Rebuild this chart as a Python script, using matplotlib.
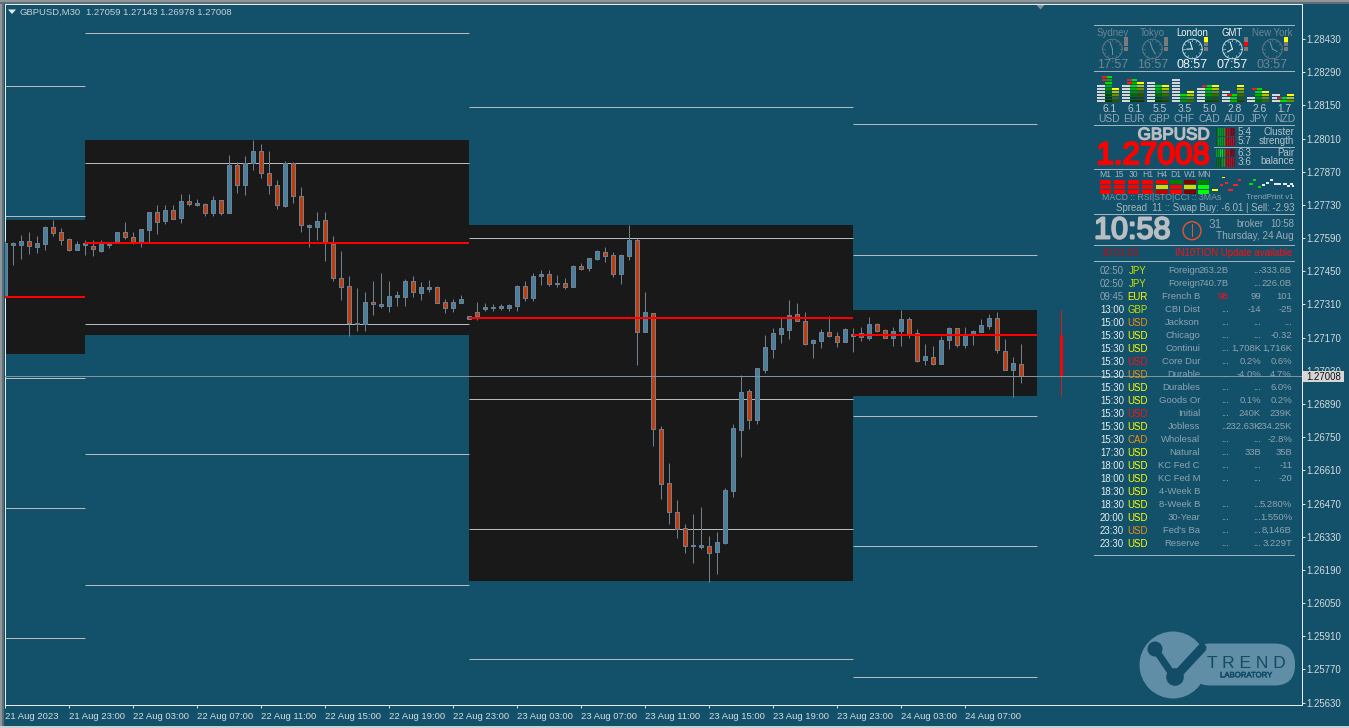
import numpy as np
import matplotlib
matplotlib.use("Agg")
import matplotlib.pyplot as plt
import matplotlib.patheffects as pe
from matplotlib.patches import Rectangle, Circle, FancyBboxPatch

plt.rcParams['font.family'] = ['Liberation Sans', 'DejaVu Sans']

# candles, in points (1e-5)
opens = [127342,127561,127562,127577,127554,127567,127636,127615,127585,127541,
         127562,127556,127537,127561,127570,127615,127594,127570,127626,127699,
         127661,127708,127674,127746,127731,127733,127695,127750,127695,127897,
         127813,127906,127957,127864,127813,127727,127906,127767,127638,127638,
         127665,127564,127421,127387,127226,127229,127319,127305,127305,127343,
         127343,127408,127360,127377,127383,127319,127296,127318,127250,127277,
         127292,127295,127296,127296,127305,127387,127339,127432,127437,127398,
         127399,127385,127471,127465,127502,127530,127518,127440,127516,127581,
         127193,127273,126783,126555,126433,126366,126291,126288,126290,126267,
         126305,126524,126782,126944,126824,127035,127123,127187,127204,127269,
         127239,127149,127157,127193,127176,127153,127178,127188,127170,127226,
         127201,127170,127199,127248,127188,127077,127087,127060,127159,127210,
         127140,127184,127195,127221,127252,127113,127035,127059]
highs = [127578,127574,127602,127615,127598,127640,127667,127632,127592,127577,
         127581,127581,127581,127575,127615,127657,127615,127627,127699,127730,
         127730,127730,127775,127775,127754,127737,127768,127751,127941,127910,
         127935,128004,127987,127957,127834,127914,127910,127805,127650,127699,
         127699,127598,127535,127430,127380,127361,127409,127442,127409,127366,
         127418,127430,127404,127413,127388,127333,127333,127349,127260,127319,
         127315,127311,127311,127311,127391,127408,127442,127454,127454,127433,
         127421,127475,127484,127505,127539,127551,127530,127522,127645,127589,
         127361,127276,126796,126641,126484,126382,126426,126455,126333,126349,
         126534,126804,127012,126952,127041,127180,127210,127252,127329,127315,
         127277,127163,127205,127260,127193,127210,127211,127214,127256,127231,
         127205,127214,127287,127256,127207,127142,127134,127176,127214,127210,
         127214,127201,127248,127269,127277,127163,127087,127143]
lows = [127337,127478,127503,127524,127529,127541,127600,127562,127537,127541,
        127520,127516,127533,127550,127570,127588,127567,127554,127575,127608,
        127651,127670,127655,127727,127726,127685,127685,127689,127695,127781,
        127772,127878,127844,127776,127713,127720,127738,127616,127553,127582,
        127494,127410,127329,127177,127199,127198,127266,127295,127278,127304,
        127304,127342,127329,127363,127318,127274,127278,127318,127250,127245,
        127284,127284,127288,127284,127284,127326,127326,127394,127389,127385,
        127377,127385,127454,127453,127499,127491,127427,127398,127499,127055,
        127193,126714,126489,126384,126325,126261,126219,126278,126139,126173,
        126301,126499,126668,126786,126807,127020,127086,127149,127166,127239,
        127140,127086,127128,127172,127132,127153,127110,127156,127161,127195,
        127170,127136,127136,127170,127069,127056,127056,127060,127121,127132,
        127128,127138,127195,127208,127107,127032,126921,126978]
closes = [127568,127570,127577,127556,127570,127636,127613,127583,127541,127564,
          127570,127546,127564,127565,127615,127593,127570,127627,127699,127657,
          127708,127672,127746,127733,127737,127695,127750,127695,127897,127813,
          127906,127957,127864,127813,127729,127906,127767,127644,127645,127661,
          127570,127421,127385,127231,127232,127319,127311,127312,127345,127350,
          127408,127361,127383,127383,127318,127296,127319,127332,127260,127263,
          127299,127299,127302,127307,127387,127339,127429,127437,127395,127401,
          127385,127471,127461,127505,127535,127516,127440,127518,127581,127193,
          127277,126783,126551,126433,126364,126292,126295,126294,126263,126306,
          126526,126788,126939,126824,127041,127129,127188,127210,127264,127239,
          127145,127159,127193,127176,127153,127205,127186,127174,127226,127199,
          127170,127197,127248,127187,127073,127091,127060,127159,127210,127140,
          127180,127197,127222,127252,127117,127032,127062,127008]

# daily sessions: bar range, high, low, pivot and range levels
session_start = [0, 10, 58, 106]
session_end = [10, 58, 106, 129]
session_high = [127667, 128004, 127645, 127287]
session_low = [127101, 127181, 126143, 126924]
session_pivot = [127343, 127570, 127253, 127183]
level_r2 = [128232, 128454, 128143, 128070]
level_r1 = [127682, 127906, 127589, 127519]
level_s1 = [127000, 127226, 126910, 126838]
level_s2 = [126451, 126679, 126361, 126290]
level_s3 = [125903, 126126, 125814, 125738]

bid = 127008
day_bar = 132
y_ticks = [128430,128290,128150,128010,127870,127730,127590,127450,127310,127170,127030,
           126890,126750,126610,126470,126330,126190,126050,125910,125770,125630]
x_labels = ['21 Aug 2023','21 Aug 23:00','22 Aug 03:00','22 Aug 07:00','22 Aug 11:00','22 Aug 15:00',
            '22 Aug 19:00','22 Aug 23:00','23 Aug 03:00','23 Aug 07:00','23 Aug 11:00','23 Aug 15:00',
            '23 Aug 19:00','23 Aug 23:00','24 Aug 03:00','24 Aug 07:00']

# panel contents
cities = ['Sydney','Tokyo','London','GMT','New York']
city_times = ['17:57','16:57','08:57','07:57','03:57']
city_active = [False, False, True, True, False]
city_lamps = [None, None, (0,'#ffff00'), (1,'#ff0000'), (0,'#ffff00')]
currencies = ['USD','EUR','GBP','CHF','CAD','AUD','JPY','NZD']
strength = ['6.1','6.1','5.5','3.5','5.0','2.8','2.6','1.7']
meter_a = [6,6,7,8,5,4,2,3]
meter_b = [9,8,6,3,6,3,5,2]
meter_c = [5,7,6,4,6,6,4,3]
meter_red = [2,2,0,0,1,1,1,1]
frames = ['M1','15','30','H1','H4','D1','W1','MN']
frame_cols = [['#ff0000']*3, ['#ff0000']*3, ['#ff0000']*3, ['#ff0000']*3,
              ['#ff0000','#d8d800','#c00000'], ['#008000','#ff0000','#ff0000'],
              ['#800000','#d8d800','#800000'], ['#008000','#00ff00','#00ff00']]
ratios = ['5:4','5:7','6:3','3:6']
ratio_g = [5,5,6,3]
ratio_r = [4,7,3,6]

news_time = ['02:50','02:50','09:45','13:00','15:00','15:30','15:30','15:30','15:30','15:30','15:30',
             '15:30','15:30','15:30','17:30','18:00','18:00','18:30','18:30','20:00','23:30','23:30']
news_cur = ['JPY','JPY','EUR','GBP','USD','USD','USD','USD','USD','USD','USD',
            'USD','USD','CAD','USD','USD','USD','USD','USD','USD','USD','USD']
news_imp = ['#c8e400','#c8e400','#ffff00','#c8e400','#f09010','#ffff00','#ffff00','#ff1010','#f09010','#ffff00','#ffff00',
            '#ff1010','#ffff00','#f09010','#ffff00','#ffff00','#ffff00','#ffff00','#ffff00','#ffff00','#f09010','#ffff00']
news_name = ['Foreign','Foreign','French B','CBI Dist','Jackson','Chicago','Continui','Core Dur','Durable','Durables','Goods Or',
             'Initial','Jobless','Wholesal','Natural','KC Fed C','KC Fed M','4-Week B','8-Week B','30-Year',"Fed's Ba",'Reserve']
news_act = ['263.2B','740.7B','98','...','...','...','...','...','...','...','...',
            '...','...','...','...','...','...','','...','...','...','...']
news_fc = ['...','...','99','-14','...','...','1,708K','0.2%','-4.0%','...','0.1%',
           '240K','232.63K','...','33B','...','...','','...','...','...','...']
news_prev = ['-333.6B','226.0B','101','-25','...','-0.32','1,716K','0.6%','4.7%','6.0%','0.2%',
             '239K','234.25K','-2.8%','35B','-11','-20','','5.280%','1.550%','8,146B','3.229T']

BG = '#135069'
BOX = '#191919'
UP = '#45809f'
DOWN = '#c63c06'
EDGE = '#708090'
LINE = '#b4bcc0'
TXT = '#8ea4b2'
W, H = 1349, 728
px = 0.72  # one pixel in points at dpi 100

fig = plt.figure(figsize=(W/100, H/100), dpi=100, facecolor=BG)

L, R, T, B = 4.5, 1301.5, 4.0, 705.0
ax = fig.add_axes([L/W, 1-B/H, (R-L)/W, (B-T)/H], facecolor=BG)
ax.set_xlim((L-5.3)/8, (R-5.3)/8)
ax.set_ylim(1.25620, 1.28578)

# sessions
for i in range(len(session_start)):
    s, e = session_start[i], session_end[i]
    ax.add_patch(Rectangle((s-0.1, session_low[i]/1e5), e-s+0.1, (session_high[i]-session_low[i])/1e5,
                           fc=BOX, ec='none', zorder=1))
    for lv in (level_r2, level_r1, level_s1, level_s2, level_s3):
        ax.plot([s, e], [lv[i]/1e5]*2, color=LINE, lw=px, zorder=2, solid_capstyle='butt')
    ax.plot([s, e], [session_pivot[i]/1e5]*2, color='#ff0000', lw=2*px, zorder=5, solid_capstyle='butt')

# candles
o, h, l, c = [np.array(a)/1e5 for a in (opens, highs, lows, closes)]
idx = np.arange(len(o))
ax.vlines(idx, l, h, color=EDGE, lw=px, zorder=3)
ax.bar(idx, np.maximum(np.abs(c-o), 1e-5), bottom=np.minimum(o, c), width=0.5,
       color=[UP if cc >= oo else DOWN for oo, cc in zip(o, c)], edgecolor=EDGE, linewidth=px, zorder=4)

# current day bar
ax.vlines(day_bar, session_low[-1]/1e5, session_high[-1]/1e5, color='#e01818', lw=px, zorder=3)
ax.bar([day_bar], [(session_pivot[-1]-bid)/1e5], bottom=bid/1e5, width=0.38, color='#ff0000', zorder=4)
ax.axhline(bid/1e5, color='#7f929e', lw=px, zorder=6)

ax.yaxis.tick_right()
ax.set_yticks(np.array(y_ticks)/1e5)
ax.set_yticklabels([f'{t/1e5:.5f}' for t in y_ticks], fontsize=6.9, color='#d4dce0')
ax.set_xticks(np.arange(len(x_labels))*8)
ax.set_xticklabels(x_labels, fontsize=6.8, color='#d4dce0', ha='left')
ax.tick_params(axis='y', length=2.4, width=px, color='#d8e0e4', pad=1)
ax.tick_params(axis='x', length=2.4, width=px, color='#d8e0e4', pad=2.5)
for sp in ('bottom', 'left', 'right', 'top'):
    ax.spines[sp].set_color('#e8eef0')
    ax.spines[sp].set_linewidth(px)

# overlay in screen pixels for the indicator panel
p = fig.add_axes([0, 0, 1, 1], facecolor='none')
p.set_xlim(0, W)
p.set_ylim(H, 0)
p.axis('off')


def txt(x, y, s, size=6.7, color=TXT, ha='left', stroke=0, **kw):
    t = p.text(x, y, s, fontsize=size, color=color, ha=ha, va='center', **kw)
    if stroke:
        # the bold face comes out thin here, so thicken it
        t.set_path_effects([pe.withStroke(linewidth=stroke, foreground=color)])
    return t


def box(x, y, w, h, col, z=3):
    p.add_patch(Rectangle((x, y), w, h, fc=col, ec='none', zorder=z))


# window edges, title
box(0, 0, 2, H, '#8f979b')
box(2, 0, 2, H, '#5d6e78')
box(0, 0, W, 1.5, '#8f979b')
box(0, 1.5, W, 2, '#5d6e78')
box(0, 726, W, 2, '#c8d0d4')
p.fill([8, 16, 12], [9.5, 9.5, 14], color='#e4eaec', lw=0)
txt(20, 12.5, 'GBPUSD,M30', 6.8, '#c4d0d6')
txt(86, 12.5, '1.27059 1.27143 1.26978 1.27008', 6.8, '#c4d0d6')
p.fill([1036.5, 1044.5, 1040.5], [5, 5, 9.5], color='#7f929e', lw=0)

# bid tag
box(1303, 371, 41, 10.7, '#d6d6d6', z=8)
p.text(1323.5, 376.6, f'{bid/1e5:.5f}', fontsize=6.9, color='#101010', ha='center', va='center', zorder=9)

# separators
for yy in (25, 71, 125.3, 169, 214.3, 245, 260.7, 555):
    p.plot([1094, 1294], [yy, yy], color='#9fb4c0', lw=px)
p.plot([1214, 1294], [147.3, 147.3], color='#9fb4c0', lw=px)

# session clocks
for i, city in enumerate(cities):
    cx = 1112.4 + 40*i
    col = '#f0f4f6' if city_active[i] else '#6f8694'
    ring = '#bcd8e4' if city_active[i] else '#5f7886'
    txt(cx, 33, city, 6.9, col, ha='center')
    txt(cx, 64.5, city_times[i], 9, col, ha='center')
    p.add_patch(Circle((cx, 49), 9.8, fc='none', ec=ring, lw=px))
    for k in range(12):
        a = 2*np.pi*k/12
        p.plot([cx+7.8*np.sin(a), cx+9.3*np.sin(a)], [49-7.8*np.cos(a), 49-9.3*np.cos(a)], color=ring, lw=0.5)
    hh, mm = [int(v) for v in city_times[i].split(':')]
    for frac, ln in (((hh % 12 + mm/60)/12, 5.5), (mm/60, 7.5)):
        a = 2*np.pi*frac
        p.plot([cx, cx+ln*np.sin(a)], [49, 49-ln*np.cos(a)], color='#f4f8fa' if city_active[i] else '#7a909c', lw=px)
    for k in range(3):
        lamp = city_lamps[i]
        col2 = lamp[1] if lamp and lamp[0] == k else '#7a7a7a'
        box(cx+11.5, 37.3+4.7*k, 4.2, 4.4, col2)

# currency strength meters
greens = ['#00e000','#00b000','#009000','#006c00','#005000','#004000','#003400','#002c00','#002400']
olives = ['#ffff00','#b8c000','#6c9000','#3f6800','#2f5000','#2a4000','#203000']
for i, cur in enumerate(currencies):
    x0 = 1097.3 + 25*i
    for k in range(meter_a[i]):
        box(x0, 99.5-3*k, 8, 2.4, '#d8d8d8')
    for k in range(meter_b[i]):
        top = meter_b[i]-1-k
        if top < meter_red[i]:
            box(x0+5, 99.5-3*k, 5, 2.4, '#e82020')
            box(x0+10, 99.5-3*k, 5, 2.4, greens[0] if top == 0 else greens[1])
        else:
            box(x0+8, 99.5-3*k, 7, 2.4, greens[top-meter_red[i]])
    for k in range(meter_c[i]):
        box(x0+15, 99.5-3*k, 7, 2.4, olives[meter_c[i]-1-k])
    txt(x0+12, 109.5, strength[i], 7.4, '#b8c6ce', ha='center')
    txt(x0+12, 118.5, cur, 7.4, '#8ea8b8', ha='center')

# symbol and price
txt(1210, 135, 'GBPUSD', 12.3, '#b8bec2', ha='right', stroke=0.9)
txt(1210, 156, '1.27008', 22.6, '#ff0000', ha='right', stroke=1.5)

# balance meters
meter_y = [127.5, 137, 148.5, 158]
for i, rt in enumerate(ratios):
    for k in range(19):
        if k < 9:
            lit = k >= 9-ratio_g[i]*1.6
            col = ('#00e040' if ratio_g[i] == 6 and 4 <= k < 8 else '#00a030') if lit else '#0a5028'
            if k % 2:
                col = '#0a6a2a'
        else:
            lit = k-9 < ratio_r[i]*1.4
            col = '#b01828' if lit else '#5a1428'
            if k % 2 == 0:
                col = '#701428'
        box(1216+k, meter_y[i], 1, 8.6, col)
    txt(1238, meter_y[i]+4.4, rt, 7.2, '#b4c4cc')
txt(1294, 131.7, 'Cluster', 7, '#b4c4cc', ha='right')
txt(1294, 140.5, 'strength', 7, '#b4c4cc', ha='right')
txt(1294, 152.7, 'Pair', 7, '#b4c4cc', ha='right')
txt(1294, 161.3, 'balance', 7, '#b4c4cc', ha='right')

# timeframe grid
frame_x = [1105.3, 1119.3, 1133.3, 1147.6, 1161.8, 1176, 1190, 1203.7]
for i, fr in enumerate(frames):
    txt(frame_x[i], 174.3, fr, 6.2, '#9fb4c0', ha='center')
    for k in range(3):
        box(frame_x[i]-5.7, 180+5*k, 11.4, 4.2, frame_cols[i][k])
trend_marks = [(1212,189,6,'#ffff00'),(1222,176.5,2.5,'#ffff00'),(1220,184,3,'#ff2020'),(1225,182,3,'#ff2020'),
               (1228,189,5,'#ff2020'),(1233,184,5,'#ff2020'),(1238,179,3,'#ff2020'),(1249,183,4,'#00e000'),
               (1253,179,3,'#00e000'),(1258,186,3,'#00e000'),(1262,184,3,'#e8e8e8'),(1266,182,3,'#e8e8e8'),
               (1270,179,3,'#e8e8e8'),(1274,183,4,'#e8e8e8'),(1278,183,3,'#e8e8e8'),(1283,183,4,'#e8e8e8'),
               (1287,185,3,'#e8e8e8'),(1290,183,3,'#e8e8e8'),(1292,185,2,'#e8e8e8')]
for tx, ty, tw, tc in trend_marks:
    box(tx, ty, tw, 1.6, tc)
txt(1102, 197.3, 'MACD :: RSI|STO|CCI :: 3MAs', 6.3, '#7f98a8')
txt(1294, 197.3, 'TrendPrint v1', 5.8, '#8ea8b8', ha='right')
txt(1294, 207.7, 'Spread  11 :: Swap Buy: -6.01 | Sell: -2.93', 6.9, '#a6b8c2', ha='right')

# broker clock
txt(1094, 230.5, '10:58', 22, '#b8bec2', stroke=1.4)
p.add_patch(Circle((1192, 230.7), 9, fc='none', ec='#f0502c', lw=1.0))
p.plot([1192, 1192], [223.5, 231], color='#f0502c', lw=px)
p.plot([1192, 1192], [231, 236], color='#f0502c', lw=px)
txt(1208.5, 225, '31', 8.6, '#8ea4b2')
txt(1236, 224, 'broker', 6.9, '#98acb8')
txt(1294, 224, '10:58', 6.9, '#98acb8', ha='right')
txt(1294, 236, 'Thursday, 24 Aug', 7.2, '#98acb8', ha='right')
txt(1101, 253.3, '10:51:03', 6.9, '#c00c0c')
txt(1292, 253.3, 'IN10TION Update available', 6.9, '#ff1010', ha='right')

# news table
for i in range(len(news_time)):
    yy = 270.7 + 13*i
    txt(1100, yy, news_time[i], 6.9, '#8ea4b2' if i < 3 else '#e8ecee')
    txt(1137.7, yy, news_cur[i], 6.9, news_imp[i], ha='center')
    txt(1200, yy, news_name[i], 6.8, ha='right')
    txt(1228.5, yy, news_act[i], 6.8, '#ff1010' if news_act[i] == '98' else TXT, ha='right')
    txt(1261, yy, news_fc[i], 6.8, ha='right')
    txt(1292, yy, news_prev[i], 6.8, ha='right')

# logo
LOGO = '#5f8ea6'
DARK = '#134c66'
p.add_patch(Circle((1173, 665), 33.5, fc=LOGO, ec='none', zorder=4))
p.add_patch(FancyBboxPatch((1190, 643.5), 105, 42, boxstyle='round,pad=0,rounding_size=20.5', fc=LOGO, ec='none', zorder=4))
p.plot([1155, 1170], [649, 671], color=DARK, lw=7*px, solid_capstyle='round', zorder=5)
p.plot([1175, 1202], [677, 648], color=DARK, lw=9*px, solid_capstyle='round', zorder=5)
p.add_patch(Circle((1155, 649), 7.5, fc=DARK, ec='none', zorder=5))
p.add_patch(Circle((1175, 677), 8.8, fc=DARK, ec='none', zorder=5))
p.text(1246, 664, 'T R E N D', fontsize=12.5, color=DARK, ha='center', va='center', zorder=6)
t = p.text(1246, 675.8, 'LABORATORY', fontsize=5.6, color=DARK, ha='center', va='center', zorder=6)
t.set_path_effects([pe.withStroke(linewidth=0.4, foreground=DARK)])

fig.savefig('out.png', dpi=100, facecolor=BG)
